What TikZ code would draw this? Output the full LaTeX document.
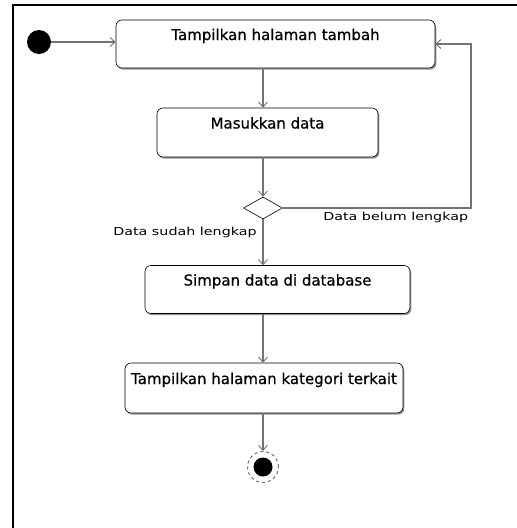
\documentclass[tikz,border=0pt]{standalone}
\usepackage{fontspec}
\setmainfont{DejaVu Sans}
\newfontfamily\boxfont[FakeBold=0.7]{DejaVu Sans}
\usetikzlibrary{arrows.meta,shapes.geometric,shadows}

\tikzset{
  actbox/.style={rectangle, rounded corners=6pt, draw=black, line width=0.6pt,
    fill=white, inner xsep=0pt, inner ysep=0pt, text height=20pt, text depth=28pt,
    font=\boxfont\fontsize{15pt}{17pt}\selectfont,
    drop shadow={shadow xshift=1.3pt, shadow yshift=-1.6pt, fill=gray!85, opacity=1}},
  flow/.style={draw=gray!90!black, line width=1.1pt,
    -{Straight Barb[length=5pt,width=9pt,line width=0.9pt]}},
  guard/.style={font=\fontsize{11pt}{13pt}\selectfont, inner sep=0pt, xscale=1.3},
  choice/.style={diamond, draw=black, line width=0.6pt, fill=white,
    minimum width=39pt, minimum height=22pt, inner sep=0pt}
}

\begin{document}
\begin{tikzpicture}[x=1pt, y=-1pt]
  \useasboundingbox (0,0) rectangle (517,528);

  % frame of the diagram
  \draw[line width=2pt] (13,528) -- (13,5) -- (517,5);

  % initial state
  \node[circle, fill=black, minimum size=24pt, inner sep=0pt] (start) at (39,42) {};

  % activities
  \node[actbox, minimum width=319pt, minimum height=48pt] (tambah) at (275.5,44) {Tampilkan halaman tambah};
  \node[actbox, minimum width=221pt, minimum height=49pt] (masuk) at (267.5,132.5) {Masukkan data};
  \node[choice] (cek) at (263,208) {};
  \node[actbox, minimum width=265pt, minimum height=47pt] (simpan) at (277.5,289.5) {Simpan data di database};
  \node[actbox, minimum width=278pt, minimum height=50pt] (kategori) at (264,388) {Tampilkan halaman kategori terkait};

  % final state
  \node[circle, draw=gray!90!black, dashed, line width=1pt, minimum size=31pt, inner sep=0pt] (akhir) at (263,467) {};
  \node[circle, fill=black, minimum size=19pt, inner sep=0pt] (akhirdot) at (akhir.center) {};

  % loop-back corner
  \coordinate (balik) at (471,208);

  % transitions
  \draw[flow] (start.east) -- (tambah.west |- start.east);
  \draw[flow] (tambah.south -| cek.center) -- (masuk.north -| cek.center);
  \draw[flow] (masuk.south -| cek.center) -- (cek.north);
  \draw[flow] (cek.south) -- (simpan.north -| cek.center);
  \draw[flow] (simpan.south -| cek.center) -- (kategori.north -| cek.center);
  \draw[flow] (kategori.south -| cek.center) -- (akhir.north);
  \draw[flow] (cek.east) -- (balik) |- (tambah.east);

  % guards
  \node[guard, anchor=west] (belum) at (323,217) {Data belum lengkap};
  \node[guard, anchor=east] (sudah) at (257,232) {Data sudah lengkap};
\end{tikzpicture}
\end{document}
